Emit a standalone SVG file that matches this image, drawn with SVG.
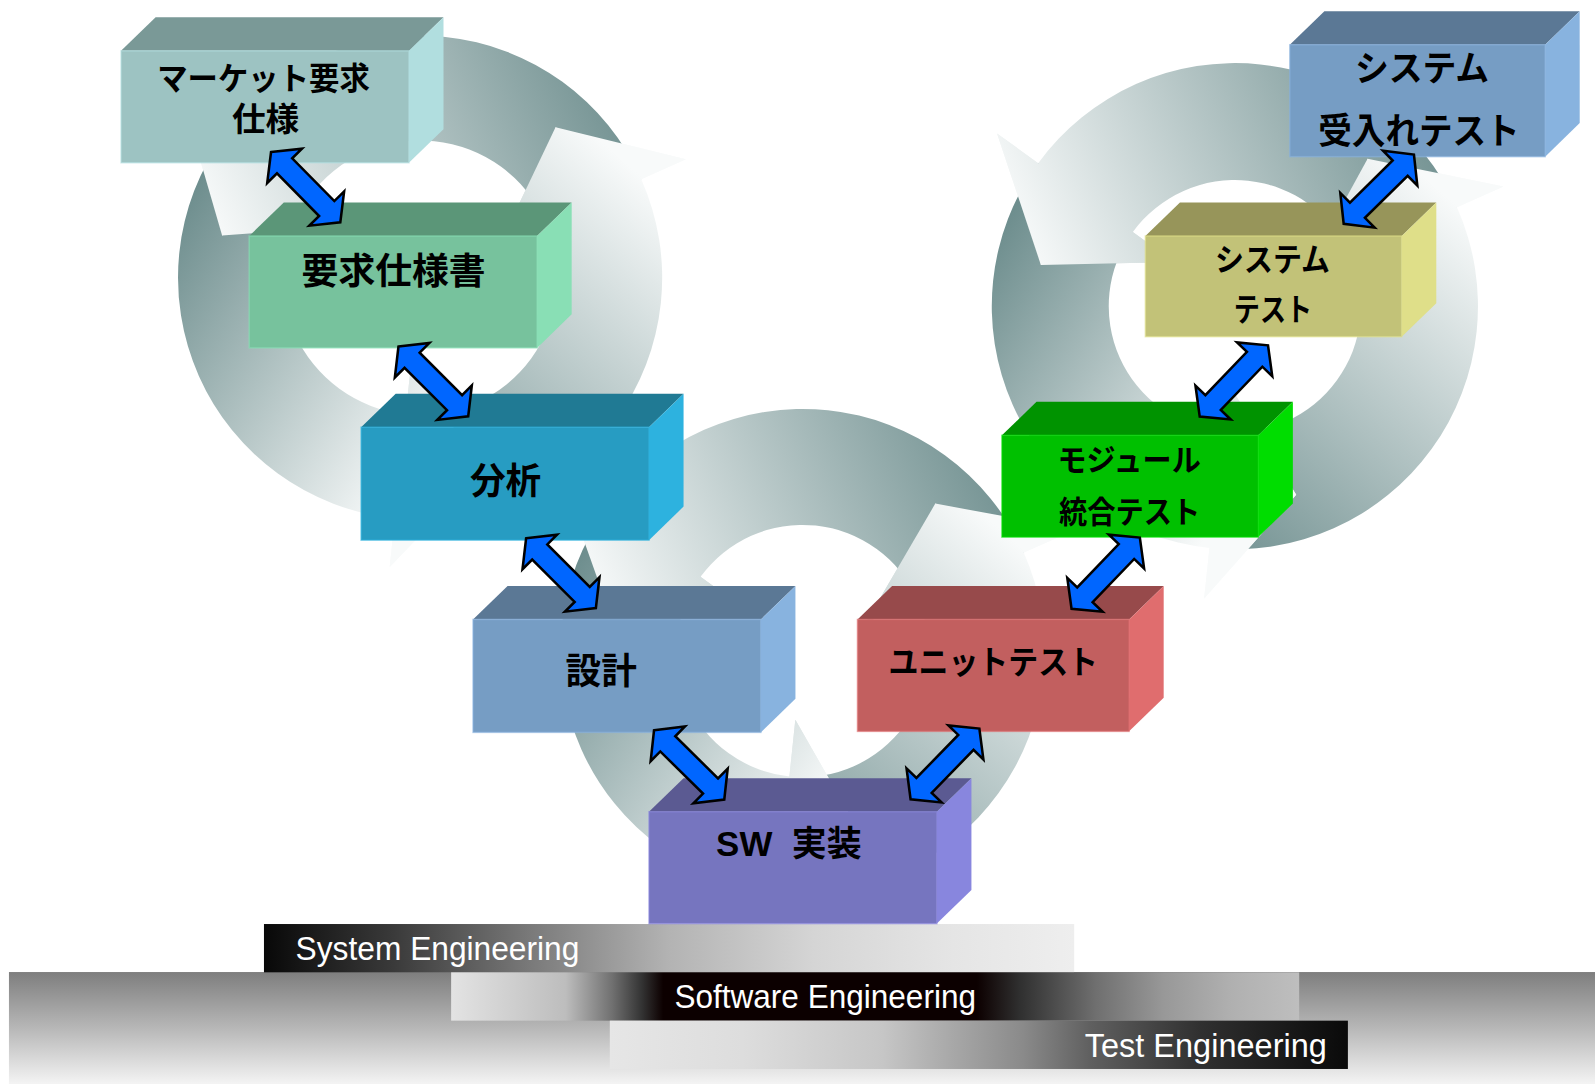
<svg xmlns="http://www.w3.org/2000/svg" width="1595" height="1084" viewBox="0 0 1595 1084">
<defs>
<style>
.t{font-family:"Liberation Sans","Noto Sans CJK JP",sans-serif;font-weight:700;fill:#000;text-anchor:middle}
.bt{font-family:"Liberation Sans",Arial,sans-serif;fill:#fff;font-size:32px}
.arr{fill:#0066FF;stroke:#000;stroke-width:2.5;stroke-linejoin:miter}
.fr{stroke-width:1.5;stroke-opacity:0.6}
</style>
<linearGradient id="gLT" gradientUnits="userSpaceOnUse" x1="613" y1="73" x2="223" y2="253"><stop offset="0" stop-color="#6E8E8E"/><stop offset="1" stop-color="#F8FAFA"/></linearGradient>
<linearGradient id="gLL" gradientUnits="userSpaceOnUse" x1="173" y1="213" x2="453" y2="393"><stop offset="0" stop-color="#6E8E8E"/><stop offset="1" stop-color="#F8FAFA"/></linearGradient>
<linearGradient id="gLR" gradientUnits="userSpaceOnUse" x1="373" y1="513" x2="653" y2="193"><stop offset="0" stop-color="#6E8E8E"/><stop offset="1" stop-color="#F8FAFA"/></linearGradient>
<linearGradient id="gMT" gradientUnits="userSpaceOnUse" x1="989" y1="440" x2="599" y2="620"><stop offset="0" stop-color="#6E8E8E"/><stop offset="1" stop-color="#F8FAFA"/></linearGradient>
<linearGradient id="gML" gradientUnits="userSpaceOnUse" x1="549" y1="580" x2="829" y2="760"><stop offset="0" stop-color="#6E8E8E"/><stop offset="1" stop-color="#F8FAFA"/></linearGradient>
<linearGradient id="gMR" gradientUnits="userSpaceOnUse" x1="749" y1="880" x2="1029" y2="560"><stop offset="0" stop-color="#6E8E8E"/><stop offset="1" stop-color="#F8FAFA"/></linearGradient>
<linearGradient id="gRT" gradientUnits="userSpaceOnUse" x1="1414" y1="101" x2="1024" y2="281"><stop offset="0" stop-color="#6E8E8E"/><stop offset="1" stop-color="#F8FAFA"/></linearGradient>
<linearGradient id="gRL" gradientUnits="userSpaceOnUse" x1="974" y1="241" x2="1254" y2="421"><stop offset="0" stop-color="#6E8E8E"/><stop offset="1" stop-color="#F8FAFA"/></linearGradient>
<linearGradient id="gRR" gradientUnits="userSpaceOnUse" x1="1174" y1="541" x2="1454" y2="221"><stop offset="0" stop-color="#6E8E8E"/><stop offset="1" stop-color="#F8FAFA"/></linearGradient>
<linearGradient id="gBase" x1="0" y1="0" x2="0" y2="1"><stop offset="0" stop-color="#7E7E7E"/><stop offset="0.5" stop-color="#B8B8B8"/><stop offset="1" stop-color="#F6F6F6"/></linearGradient>
<linearGradient id="gSys" x1="0" y1="0" x2="1" y2="0"><stop offset="0" stop-color="#080808"/><stop offset="0.16" stop-color="#3A3A3A"/><stop offset="0.33" stop-color="#7A7A7A"/><stop offset="0.5" stop-color="#B3B3B3"/><stop offset="0.68" stop-color="#D5D5D5"/><stop offset="0.85" stop-color="#E5E5E5"/><stop offset="1" stop-color="#EEEEEE"/></linearGradient>
<linearGradient id="gSw" x1="0" y1="0" x2="1" y2="0"><stop offset="0" stop-color="#E3E3E3"/><stop offset="0.135" stop-color="#BDBDBD"/><stop offset="0.19" stop-color="#707070"/><stop offset="0.225" stop-color="#333333"/><stop offset="0.25" stop-color="#0C0000"/><stop offset="0.62" stop-color="#0C0000"/><stop offset="0.67" stop-color="#2F2F2F"/><stop offset="0.76" stop-color="#6F6F6F"/><stop offset="0.84" stop-color="#989898"/><stop offset="0.92" stop-color="#B0B0B0"/><stop offset="1" stop-color="#BEBEBE"/></linearGradient>
<linearGradient id="gTe" x1="0" y1="0" x2="1" y2="0"><stop offset="0" stop-color="#E6E6E6"/><stop offset="0.18" stop-color="#DDDDDD"/><stop offset="0.37" stop-color="#C6C6C6"/><stop offset="0.46" stop-color="#A9A9A9"/><stop offset="0.56" stop-color="#8A8A8A"/><stop offset="0.65" stop-color="#606060"/><stop offset="0.8" stop-color="#303030"/><stop offset="0.94" stop-color="#151515"/><stop offset="1" stop-color="#0A0A0A"/></linearGradient>
<path id="dbl" d="M-48.5,0 L-29.5,-24 L-29.5,-10.5 L29.5,-10.5 L29.5,-24 L48.5,0 L29.5,24 L29.5,10.5 L-29.5,10.5 L-29.5,24 Z"/>
</defs>
<rect width="1595" height="1084" fill="#FFFFFF"/>
<g transform="scale(1.0172)">
<g id="cycles">
<g id="cycle-left">
<path fill="url(#gLR)" d="M388.13,509.69 A238,238 0 0 0 630.41,176.21 L674.26,156.68 L546.15,125.12 L492.47,237.62 L536.32,218.10 A135,135 0 0 1 398.89,407.26 L474.49,462.27 Z"/>
<path fill="url(#gLT)" d="M630.41,176.21 A238,238 0 0 0 220.46,133.10 L181.63,104.89 L218.36,231.63 L342.62,221.86 L303.78,193.65 A135,135 0 0 1 536.32,218.10 L546.15,125.12 Z"/>
<path fill="url(#gLL)" d="M220.46,133.10 A238,238 0 0 0 388.13,509.69 L383.11,557.43 L474.49,462.27 L403.91,359.52 L398.89,407.26 A135,135 0 0 1 303.78,193.65 L218.36,231.63 Z"/>
<path fill="url(#gLR)" d="M674.26,156.68 L546.15,125.12 L492.47,237.62 Z"/>
<path fill="url(#gLT)" d="M181.63,104.89 L218.36,231.63 L342.62,221.86 Z"/>
<path fill="url(#gLL)" d="M383.11,557.43 L474.49,462.27 L403.91,359.52 Z"/>
</g>
<g id="cycle-middle">
<path fill="url(#gMR)" d="M764.13,876.69 A238,238 0 0 0 1006.41,543.21 L1057.57,520.43 L919.47,495.10 L851.12,612.34 L902.27,589.57 A124,124 0 0 1 776.04,763.32 L849.26,825.46 Z"/>
<path fill="url(#gMT)" d="M1006.41,543.21 A238,238 0 0 0 596.46,500.10 L551.15,467.19 L598.27,599.46 L733.99,600.03 L688.68,567.11 A124,124 0 0 1 902.27,589.57 L919.47,495.10 Z"/>
<path fill="url(#gML)" d="M596.46,500.10 A238,238 0 0 0 764.13,876.69 L758.28,932.38 L849.26,825.46 L781.89,707.63 L776.04,763.32 A124,124 0 0 1 688.68,567.11 L598.27,599.46 Z"/>
<path fill="url(#gMR)" d="M1057.57,520.43 L919.47,495.10 L851.12,612.34 Z"/>
<path fill="url(#gMT)" d="M551.15,467.19 L598.27,599.46 L733.99,600.03 Z"/>
<path fill="url(#gML)" d="M758.28,932.38 L849.26,825.46 L781.89,707.63 Z"/>
</g>
<g id="cycle-right">
<path fill="url(#gRR)" d="M1189.02,538.69 A239,239 0 0 0 1432.33,203.80 L1478.00,183.46 L1344.47,156.10 L1281.60,270.90 L1327.27,250.57 A124,124 0 0 1 1201.04,424.32 L1274.26,486.46 Z"/>
<path fill="url(#gRT)" d="M1432.33,203.80 A239,239 0 0 0 1020.65,160.52 L980.20,131.13 L1023.27,260.46 L1154.13,257.50 L1113.68,228.11 A124,124 0 0 1 1327.27,250.57 L1344.47,156.10 Z"/>
<path fill="url(#gRL)" d="M1020.65,160.52 A239,239 0 0 0 1189.02,538.69 L1183.80,588.41 L1274.26,486.46 L1206.27,374.59 L1201.04,424.32 A124,124 0 0 1 1113.68,228.11 L1023.27,260.46 Z"/>
<path fill="url(#gRR)" d="M1478.00,183.46 L1344.47,156.10 L1281.60,270.90 Z"/>
<path fill="url(#gRT)" d="M980.20,131.13 L1023.27,260.46 L1154.13,257.50 Z"/>
<path fill="url(#gRL)" d="M1183.80,588.41 L1274.26,486.46 L1206.27,374.59 Z"/>
</g>
</g>

<g id="bars">
<rect id="bar-base" x="8.8" y="955.6" width="1570" height="112" fill="url(#gBase)"/>
<g id="bar-system"><rect x="259.5" y="908.4" width="796.5" height="47.5" fill="url(#gSys)"/><text class="bt" x="290.6" y="943.8" textLength="279" lengthAdjust="spacingAndGlyphs">System Engineering</text></g>
<g id="bar-software"><rect x="443.5" y="955.9" width="833.7" height="47.5" fill="url(#gSw)"/><text class="bt" x="663" y="991.3" textLength="296.5" lengthAdjust="spacingAndGlyphs">Software Engineering</text></g>
<g id="bar-test"><rect x="599.5" y="1003.4" width="725.6" height="47.5" fill="url(#gTe)"/><text class="bt" x="1066.4" y="1038.8" textLength="238" lengthAdjust="spacingAndGlyphs">Test Engineering</text></g>
</g>

<g id="node-market">
<polygon points="119,50 153,17 436,17 402,50" fill="#7A9997"/>
<polygon points="402,50 436,17 436,127 402,160" fill="#B1DEDF"/>
<rect class="fr" x="119" y="50" width="283" height="110" fill="#9DC3C2" stroke="#B1DEDF"/>
<text class="t" x="259" y="88" font-size="31" textLength="209" lengthAdjust="spacingAndGlyphs">マーケット要求</text>
<text class="t" x="261" y="128.5" font-size="32" textLength="66" lengthAdjust="spacingAndGlyphs">仕様</text>
</g>
<g id="node-req">
<polygon points="245,232 279,199 562,199 528,232" fill="#5B9678"/>
<polygon points="528,232 562,199 562,309 528,342" fill="#89DFB5"/>
<rect class="fr" x="245" y="232" width="283" height="110" fill="#77C29D" stroke="#89DFB5"/>
<text class="t" x="387" y="279.3" font-size="36" textLength="181" lengthAdjust="spacingAndGlyphs">要求仕様書</text>
</g>
<g id="node-analysis">
<polygon points="355,420 389,387 672,387 638,420" fill="#207A94"/>
<polygon points="638,420 672,387 672,498 638,531" fill="#2DB2DF"/>
<rect class="fr" x="355" y="420" width="283" height="111" fill="#279CC2" stroke="#2DB2DF"/>
<text class="t" x="497" y="485.8" font-size="36" textLength="70" lengthAdjust="spacingAndGlyphs">分析</text>
</g>
<g id="node-design">
<polygon points="465,609 499,576 782,576 748,609" fill="#5B7895"/>
<polygon points="748,609 782,576 782,687 748,720" fill="#88B3DF"/>
<rect class="fr" x="465" y="609" width="283" height="111" fill="#769DC4" stroke="#88B3DF"/>
<text class="t" x="591" y="672.9" font-size="36" textLength="70" lengthAdjust="spacingAndGlyphs">設計</text>
</g>
<g id="node-impl">
<polygon points="638,798 672,765 955,765 921,798" fill="#5B5A92"/>
<polygon points="921,798 955,765 955,875 921,908" fill="#8886DE"/>
<rect class="fr" x="638" y="798" width="283" height="110" fill="#7675BF" stroke="#8886DE"/>
<text class="t" x="775.5" y="842" font-size="35" textLength="143" lengthAdjust="spacingAndGlyphs" xml:space="preserve">SW  実装</text>
</g>
<g id="node-unit">
<polygon points="843,609 877,576 1144,576 1110,609" fill="#974A4B"/>
<polygon points="1110,609 1144,576 1144,686 1110,719" fill="#E06D6E"/>
<rect class="fr" x="843" y="609" width="267" height="110" fill="#C25F5F" stroke="#E06D6E"/>
<text class="t" x="976.5" y="662.7" font-size="32" textLength="206" lengthAdjust="spacingAndGlyphs">ユニットテスト</text>
</g>
<g id="node-module">
<polygon points="985,428 1019,395 1271,395 1237,428" fill="#009300"/>
<polygon points="1237,428 1271,395 1271,495 1237,528" fill="#00DD00"/>
<rect class="fr" x="985" y="428" width="252" height="100" fill="#00C000" stroke="#00DD00"/>
<text class="t" x="1110" y="463" font-size="30" textLength="141" lengthAdjust="spacingAndGlyphs">モジュール</text>
<text class="t" x="1110.5" y="514" font-size="30" textLength="139" lengthAdjust="spacingAndGlyphs">統合テスト</text>
</g>
<g id="node-systest">
<polygon points="1126,232 1160,199 1412,199 1378,232" fill="#97955A"/>
<polygon points="1378,232 1412,199 1412,298 1378,331" fill="#DFDF89"/>
<rect class="fr" x="1126" y="232" width="252" height="99" fill="#C2C278" stroke="#DFDF89"/>
<text class="t" x="1251" y="266.6" font-size="31" textLength="113" lengthAdjust="spacingAndGlyphs">システム</text>
<text class="t" x="1251.5" y="315.7" font-size="31" textLength="77" lengthAdjust="spacingAndGlyphs">テスト</text>
</g>
<g id="node-accept">
<polygon points="1268,44 1302,11 1553,11 1519,44" fill="#5B7895"/>
<polygon points="1519,44 1553,11 1553,121 1519,154" fill="#88B3DF"/>
<rect class="fr" x="1268" y="44" width="251" height="110" fill="#769DC4" stroke="#88B3DF"/>
<text class="t" x="1398" y="79.4" font-size="35" textLength="132" lengthAdjust="spacingAndGlyphs">システム</text>
<text class="t" x="1395" y="141.7" font-size="36" textLength="198" lengthAdjust="spacingAndGlyphs">受入れテスト</text>
</g>

<g id="connectors">
<use href="#dbl" class="arr" transform="translate(300.5,184) rotate(45.4)"/>
<use href="#dbl" class="arr" transform="translate(426,375) rotate(45)"/>
<use href="#dbl" class="arr" transform="translate(551.5,563.5) rotate(45)"/>
<use href="#dbl" class="arr" transform="translate(677.5,752) rotate(44.6)"/>
<use href="#dbl" class="arr" transform="translate(929,751) rotate(-45.8)"/>
<use href="#dbl" class="arr" transform="translate(1087,563.5) rotate(-46.2)"/>
<use href="#dbl" class="arr" transform="translate(1213,374.5) rotate(-46.2)"/>
<use href="#dbl" class="arr" transform="translate(1355.5,186) rotate(-44.6)"/>
</g>
</g>
</svg>
